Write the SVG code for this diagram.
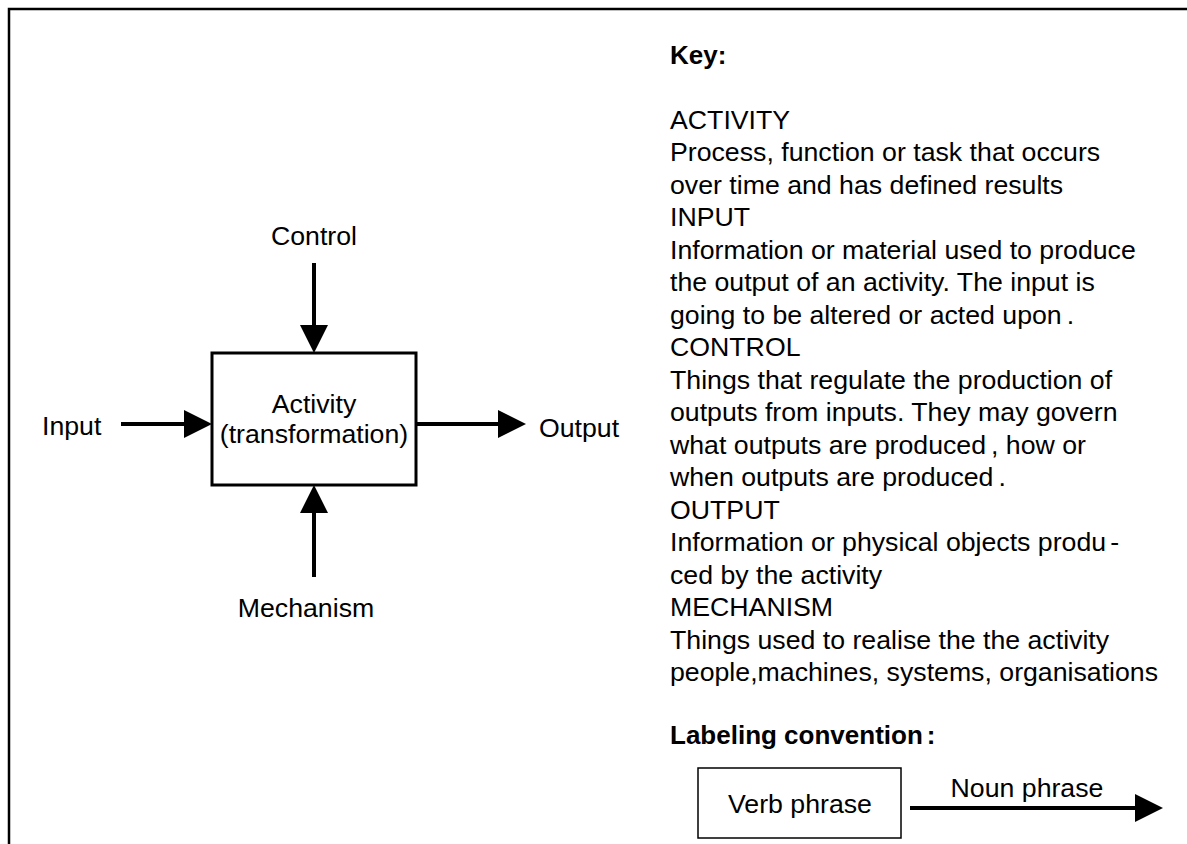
<svg xmlns="http://www.w3.org/2000/svg" width="1187" height="844" viewBox="0 0 1187 844">
  <style>
    text { font-family: "Liberation Sans", Arial, sans-serif; font-size: 26.7px; fill: #000; }
    .bold { font-weight: bold; font-size: 26px; }
    .mid { text-anchor: middle; }
    .frame { fill: none; stroke: #000; stroke-width: 2.5; }
    .box { fill: #fff; stroke: #000; stroke-width: 3; }
    .thinbox { fill: #fff; stroke: #000; stroke-width: 1.5; }
    .flow { fill: none; stroke: #000; stroke-width: 4; marker-end: url(#head); }
  </style>
  <defs>
    <!-- solid triangular head; the line stops at the head's base -->
    <marker id="head" markerUnits="userSpaceOnUse" markerWidth="28" markerHeight="28" refX="0" refY="14" orient="auto" overflow="visible">
      <path d="M0,0 L28,14 L0,28 Z" fill="#000"/>
    </marker>
  </defs>

  <rect width="1187" height="844" fill="#fff"/>

  <!-- page frame: top and left sides only -->
  <path class="frame" d="M9,844 V9 H1187"/>

  <!-- ICOM connectors -->
  <g id="connectors">
    <line class="flow" x1="121" y1="424" x2="184" y2="424"/>
    <line class="flow" x1="416" y1="424" x2="498" y2="424"/>
    <line class="flow" x1="314" y1="263" x2="314" y2="325"/>
    <line class="flow" x1="314" y1="577" x2="314" y2="513"/>
    <line class="flow" x1="910" y1="808" x2="1135" y2="808"/>
  </g>

  <g id="activity">
    <rect class="box" x="212" y="353" width="204" height="132"/>
    <text class="mid" x="314" y="413">Activity</text>
    <text class="mid" x="314" y="443">(transformation)</text>
  </g>

  <g id="control-label"><text class="mid" x="314" y="245">Control</text></g>
  <g id="input-label"><text x="42" y="435">Input</text></g>
  <g id="output-label"><text x="539" y="437">Output</text></g>
  <g id="mechanism-label"><text class="mid" x="306" y="617">Mechanism</text></g>

  <!-- legend -->
  <g id="key">
    <text class="bold" x="670" y="64">Key:</text>
    <text x="670" y="128.5">ACTIVITY</text>
    <text x="670" y="161">Process, function or task that occurs</text>
    <text x="670" y="193.5">over time and has defined results</text>
    <text x="670" y="226">INPUT</text>
    <text x="670" y="258.5">Information or material used to produce</text>
    <text x="670" y="291">the output of an activity. The input is</text>
    <text x="670" y="323.5">going to be altered or acted upon<tspan dx="5">.</tspan></text>
    <text x="670" y="356">CONTROL</text>
    <text x="670" y="388.5">Things that regulate the production of</text>
    <text x="670" y="421">outputs from inputs. They may govern</text>
    <text x="670" y="453.5">what outputs are produced<tspan dx="5">,</tspan> how or</text>
    <text x="670" y="486">when outputs are produced<tspan dx="5">.</tspan></text>
    <text x="670" y="518.5">OUTPUT</text>
    <text x="670" y="551">Information or physical objects produ<tspan dx="4">-</tspan></text>
    <text x="670" y="583.5">ced by the activity</text>
    <text x="670" y="616">MECHANISM</text>
    <text x="670" y="648.5">Things used to realise the the activity</text>
    <text x="670" y="681">people,machines, systems, organisations</text>
  </g>

  <g id="labeling-convention">
    <text class="bold" x="670" y="744">Labeling convention<tspan dx="4">:</tspan></text>
  </g>
  <g id="verb-phrase">
    <rect class="thinbox" x="698" y="768" width="203" height="70"/>
    <text class="mid" x="800" y="813">Verb phrase</text>
  </g>
  <g id="noun-phrase-label"><text class="mid" x="1027" y="797">Noun phrase</text></g>
</svg>
